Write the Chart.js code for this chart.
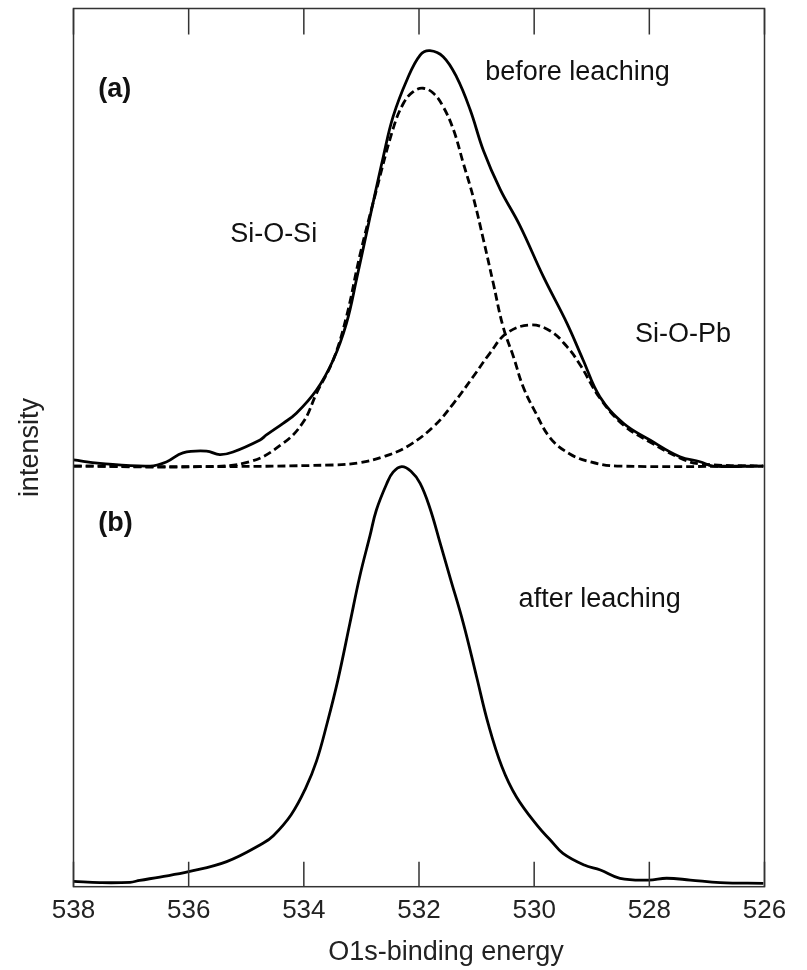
<!DOCTYPE html>
<html>
<head>
<meta charset="utf-8">
<script src="https://cdn.jsdelivr.net/npm/chart.js@4.4.1/dist/chart.umd.min.js"></script>
<style>
    html, body { margin: 0; padding: 0; background: #fff; }
    canvas { display: block; }
</style>
</head>
<body>
<canvas id="xpsChart" width="807" height="970"></canvas>
<script>
// O1s-binding energy (eV), axis runs 538 -> 526
const xTicks = [538, 536, 534, 532, 530, 528, 526];

// (a) before leaching, measured curve
const beforeEnergy = [538.0, 537.54, 536.67, 536.38, 536.1, 535.69, 535.46, 535.23, 534.76, 534.65, 534.36, 534.13,
    533.78, 533.49, 533.26, 533.08, 532.85, 532.62, 532.45, 532.21, 531.98, 531.81, 531.58, 531.35, 531.11,
    530.88, 530.59, 530.25, 529.84, 529.43, 529.15, 528.86, 528.45, 527.99, 527.47, 527.12, 526.89, 526.02];
const beforeIntensity = [48.59, 48.21, 47.9, 48.39, 49.4, 49.6, 49.2, 49.5, 50.87, 51.44, 52.77, 53.91,
    56.56, 59.98, 64.15, 69.31, 76.29, 83.12, 87.68, 91.86, 94.7, 95.2, 94.51, 92.23, 88.44,
    83.8, 79.4, 75.3, 69.46, 64.15, 59.98, 55.8, 52.77, 50.87, 48.96, 48.39, 47.9, 47.9];

// (a) fitted Si-O-Si component
const siosiEnergy = [538.0, 535.81, 534.94, 534.36, 534.01, 533.78, 533.49, 533.26, 533.03, 532.76, 532.45, 532.27,
    532.1, 531.93, 531.75, 531.58, 531.4, 531.23, 531.06, 530.88, 530.71, 530.54, 530.36, 530.19,
    529.98, 529.72, 529.38, 529.03, 528.56, 526.02];
const siosiIntensity = [47.9, 47.83, 48.39, 50.49, 52.91, 56.18, 59.98, 64.91, 71.8, 78.8, 86.3, 89.21,
    90.53, 90.92, 90.35, 88.82, 86.17, 82.37, 78.57, 73.64, 68.71, 63.77, 60.35, 56.9,
    54.05, 51.09, 49.27, 48.39, 47.9, 47.9];

// (a) fitted Si-O-Pb component
const siopbEnergy = [538.0, 535.81, 533.49, 533.03, 532.62, 532.21, 531.75, 531.4, 531.06, 530.77, 530.48,
    530.07, 529.72, 529.43, 529.2, 528.86, 528.45, 527.99, 527.47, 527.12, 526.02];
const siopbIntensity = [47.9, 47.83, 48.02, 48.28, 48.96, 50.1, 52.38, 55.04, 58.07, 60.74, 63.01,
    63.96, 63.28, 61.49, 59.41, 55.65, 52.57, 50.64, 48.82, 48.14, 47.9];

// (b) after leaching
const afterEnergy = [538.0, 537.54, 537.02, 536.85, 536.5, 536.0, 535.34, 534.71, 534.53, 534.22, 533.97, 533.78,
    533.6, 533.41, 533.2, 533.03, 532.85, 532.74, 532.56, 532.45, 532.3, 532.14, 531.98, 531.81, 531.64,
    531.46, 531.23, 531.0, 530.8, 530.56, 530.31, 529.93, 529.72, 529.5, 529.13, 528.85, 528.51, 528.01,
    527.7, 527.29, 526.77, 526.02];
const afterIntensity = [0.6, 0.46, 0.5, 0.72, 1.1, 1.71, 2.85, 4.94, 5.8, 8.2, 11.2, 14.3,
    18.5, 23.5, 30.0, 35.3, 40.0, 42.9, 45.9, 47.2, 47.83, 47.3, 45.93, 43.1, 39.3,
    35.2, 29.99, 23.91, 18.6, 13.66, 10.25, 6.83, 5.32, 3.8, 2.47, 1.9, 0.96, 0.76,
    0.96, 0.76, 0.46, 0.39];

// text inside the plot, anchored at (energy, intensity), left aligned on the baseline
const noteTexts = ["(a)", "before leaching", "Si-O-Si", "Si-O-Pb", "(b)", "after leaching"];
const noteEnergy = [537.57, 530.85, 535.28, 528.25, 537.57, 530.27];
const noteIntensity = [89.96, 91.86, 73.45, 62.06, 40.5, 31.88];

const xTitle = "O1s-binding energy";
const yTitle = "intensity";

const FONT = '"Liberation Sans", Arial, Helvetica, sans-serif';

function toPoints(xs, ys) {
    return xs.map((x, i) => ({ x: x, y: ys[i] }));
}

// frame, inward tick marks, notes and axis titles
const framePlugin = {
    id: "frame",
    afterDraw(chart) {
        const ctx = chart.ctx;
        const area = chart.chartArea;
        const xScale = chart.scales.x;
        const yScale = chart.scales.y;

        ctx.save();
        ctx.strokeStyle = "#333";
        ctx.lineWidth = 1.5;
        ctx.strokeRect(area.left, area.top, area.right - area.left, area.bottom - area.top);

        ctx.beginPath();
        xTicks.forEach(v => {
            const px = xScale.getPixelForValue(v);
            ctx.moveTo(px, area.top);
            ctx.lineTo(px, area.top + 26);
            ctx.moveTo(px, area.bottom);
            ctx.lineTo(px, area.bottom - 25);
        });
        ctx.stroke();

        ctx.fillStyle = "#111";
        ctx.textAlign = "left";
        ctx.textBaseline = "alphabetic";
        noteTexts.forEach((t, i) => {
            ctx.font = (t.startsWith("(") ? "bold " : "") + "27px " + FONT;
            ctx.fillText(t, xScale.getPixelForValue(noteEnergy[i]), yScale.getPixelForValue(noteIntensity[i]));
        });

        // axis titles
        ctx.font = "27px " + FONT;
        ctx.fillStyle = "#222";
        ctx.textAlign = "center";
        ctx.fillText(xTitle, (area.left + area.right) / 2 + 27, 960);

        ctx.translate(37.5, (area.top + area.bottom) / 2);
        ctx.rotate(-Math.PI / 2);
        ctx.fillText(yTitle, 0, 0);
        ctx.restore();
    }
};

const solidLine = { borderColor: "#000", borderWidth: 2.8, pointRadius: 0, fill: false, tension: 0.4 };
const dashLine = { borderColor: "#000", borderWidth: 2.8, borderDash: [8, 4], pointRadius: 0, fill: false, tension: 0.4 };

const ctx = document.getElementById("xpsChart").getContext("2d");
new Chart(ctx, {
    type: "line",
    data: {
        datasets: [
            Object.assign({ label: "Si-O-Si", data: toPoints(siosiEnergy, siosiIntensity) }, dashLine),
            Object.assign({ label: "Si-O-Pb", data: toPoints(siopbEnergy, siopbIntensity) }, dashLine),
            Object.assign({ label: "before leaching", data: toPoints(beforeEnergy, beforeIntensity) }, solidLine),
            Object.assign({ label: "after leaching", data: toPoints(afterEnergy, afterIntensity) }, solidLine),
        ],
    },
    options: {
        responsive: false,
        animation: false,
        devicePixelRatio: 1,
        layout: {
            padding: { left: 73.5, right: 42.5, top: 8.5, bottom: 0 },
        },
        plugins: {
            legend: { display: false },
            tooltip: { enabled: false },
        },
        scales: {
            x: {
                type: "linear",
                reverse: true,
                min: 526,
                max: 538,
                afterFit: scale => { scale.height = 83.3; },
                grid: { display: false, drawTicks: false },
                border: { display: false },
                ticks: {
                    stepSize: 2,
                    padding: 9,
                    color: "#222",
                    font: { family: FONT, size: 26 },
                },
            },
            y: {
                display: false,
                min: 0,
                max: 100,
            },
        },
    },
    plugins: [framePlugin],
});
</script>
</body>
</html>
